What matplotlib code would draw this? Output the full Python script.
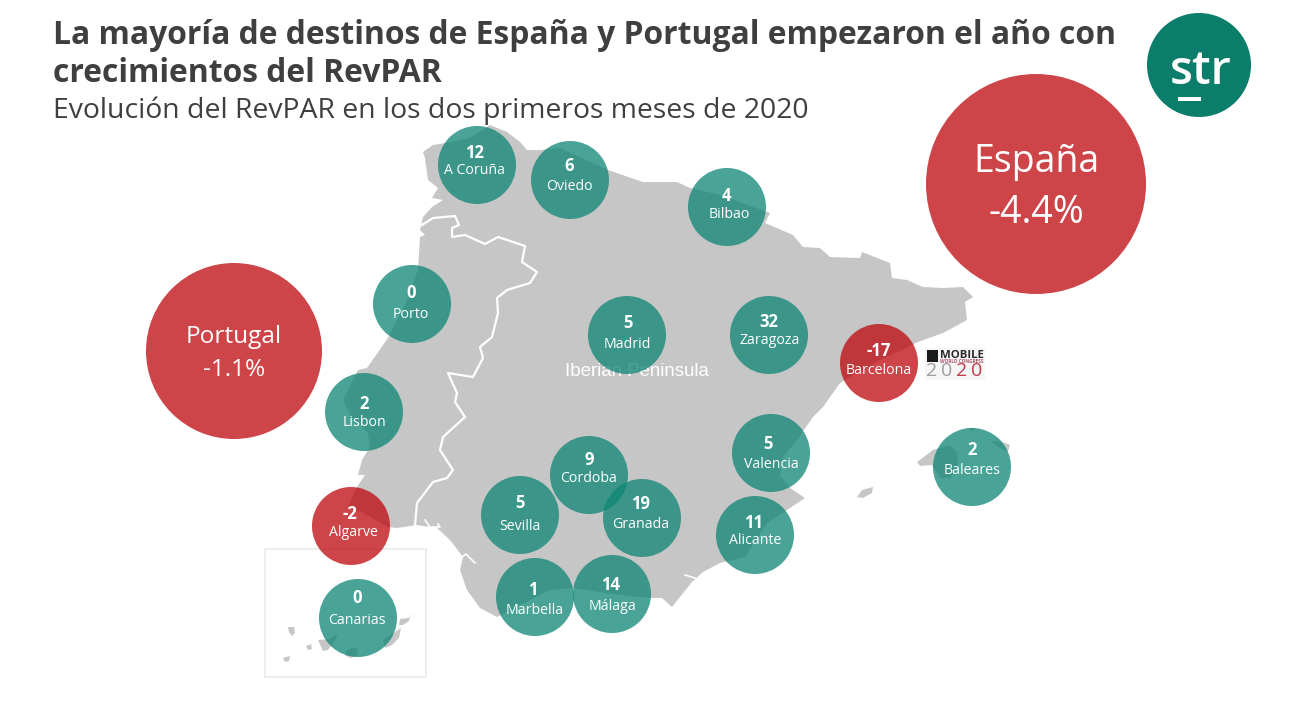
import matplotlib
matplotlib.use("Agg")
import matplotlib.pyplot as plt
from matplotlib.patches import Circle, Polygon, Rectangle

plt.rcParams['font.family'] = ['Open Sans', 'DejaVu Sans']

# ---- data -------------------------------------------------------------
title_lines = ["La mayoría de destinos de España y Portugal empezaron el año con",
               "crecimientos del RevPAR"]
subtitle = "Evolución del RevPAR en los dos primeros meses de 2020"

cities = ["A Coruña", "Oviedo", "Bilbao", "Porto", "Madrid", "Zaragoza", "Barcelona",
          "Lisbon", "Algarve", "Canarias", "Sevilla", "Cordoba", "Granada", "Marbella",
          "Málaga", "Valencia", "Alicante", "Baleares"]
values = [12, 6, 4, 0, 5, 32, -17, 2, -2, 0, 5, 9, 19, 1, 14, 5, 11, 2]
# map locations of the bubbles
city_x = [477, 570, 727, 412, 627, 769, 879, 364, 351, 358, 520, 589, 642, 535, 612, 771, 755, 972]
city_y = [165, 180, 207, 304, 335, 335, 363, 412, 526, 618, 515, 475, 518, 597, 594, 453, 535, 467]
# where the labels sit on the map
value_x = [474, 569, 727, 411, 628, 769, 879, 364, 350, 357, 520, 589, 641, 533, 611, 768, 754, 972]
value_y = [152, 165, 195, 292, 322, 321, 350, 403, 513, 597, 502, 459, 503, 589, 584, 443, 522, 449]
name_x = [474, 569, 729, 411, 627, 770, 879, 364, 353, 357, 520, 589, 641, 535, 613, 771, 755, 972]
name_y = [170, 186, 214, 314, 343, 340, 370, 422, 532, 619, 525, 478, 523, 609, 606, 463, 539, 469]

countries = ["España", "Portugal"]
country_values = ["-4.4%", "-1.1%"]
country_x = [1036, 234]
country_y = [184, 351]
country_r = [110, 88]

# map outline of the Iberian Peninsula
iberia_x = [423, 433, 452, 470, 490, 507, 520, 527, 540, 560, 575, 608, 643, 677, 690, 720, 770, 765,
            793, 803, 820, 830, 860, 862, 890, 892, 907, 923, 943, 963, 973, 965, 967, 943, 918,
            880, 840, 823, 813, 797, 783, 780, 790, 805, 787, 767, 745, 720, 703, 692, 680, 672, 662,
            650, 612, 573, 550, 520, 497, 480, 467, 460, 463, 450, 437, 417, 397, 388, 363, 348, 357,
            365, 358, 362, 370, 368, 350, 343, 358, 367, 388, 405, 418, 420, 425, 420, 423, 432, 443,
            432, 438, 428, 425]
iberia_y = [152, 145, 142, 138, 125, 132, 142, 150, 150, 148, 155, 170, 182, 182, 188, 195, 213, 223,
            235, 247, 248, 257, 258, 252, 263, 278, 280, 287, 288, 287, 297, 302, 320, 333, 342,
            360, 383, 407, 417, 440, 457, 475, 488, 498, 510, 523, 557, 563, 572, 582, 597, 607, 598,
            598, 594, 588, 590, 605, 617, 608, 590, 570, 557, 540, 528, 525, 528, 527, 513, 507, 487,
            475, 475, 460, 447, 433, 415, 400, 370, 368, 338, 305, 270, 237, 235, 230, 217, 207, 200,
            198, 188, 180, 158]

# Spain/Portugal border
border_x = [422, 433, 455, 459, 452, 452, 465, 485, 498, 525, 522, 537, 530, 507, 497, 498, 492,
            480, 483, 473, 448, 457, 455, 465, 443, 440, 453, 447, 433, 417, 415]
border_y = [225, 218, 216, 225, 228, 237, 235, 244, 237, 246, 262, 272, 283, 290, 298, 313, 337,
            347, 358, 377, 373, 393, 402, 417, 437, 450, 470, 478, 482, 503, 525]
# estuaries and lagoons cut into the coast
inlet_x = [[462, 466, 475], [425, 430, 440, 438], [685, 695]]
inlet_y = [[557, 554, 563], [520, 527, 527, 524], [575, 578]]

# islands
islands = {
    "Mallorca": ([917, 933, 950, 957, 958, 950, 940, 932, 920], [462, 450, 445, 452, 465, 478, 478, 465, 466]),
    "Menorca": ([990, 1000, 1010, 1008, 1000], [441, 441, 445, 452, 448]),
    "Cabrera": ([966, 976, 972], [428, 428, 431]),
    "Ibiza": ([857, 862, 873, 872, 863], [497, 490, 487, 493, 498]),
    "La Palma": ([288, 294, 295, 292, 289], [627, 627, 633, 636, 632]),
    "El Hierro": ([283, 290, 289, 285], [658, 656, 661, 662]),
    "La Gomera": ([306, 311, 312, 308], [646, 644, 649, 650]),
    "Tenerife": ([318, 330, 338, 334, 328, 323], [640, 639, 633, 642, 650, 651]),
    "Gran Canaria": ([347, 355, 358, 357, 350, 345], [650, 647, 650, 656, 658, 655]),
    "Fuerteventura": ([383, 398, 401, 399, 392, 385], [640, 630, 628, 638, 645, 648]),
    "Lanzarote": ([400, 409, 411, 409, 403, 399], [619, 618, 613, 621, 625, 625]),
}
year_digits = ["2", "0", "2", "0"]
year_colors = ["#9E9E9E", "#9E9E9E", "#C23B4A", "#C23B4A"]

GREEN = "#0E8675"
RED = "#BE090E"
LAND = "#C6C6C6"
ALPHA = 0.755

fig = plt.figure(figsize=(13.03, 7.04), dpi=100)
ax = fig.add_axes([0, 0, 1, 1])
ax.set_xlim(0, 1303)
ax.set_ylim(704, 0)
ax.axis("off")

# canary box
ax.add_patch(Rectangle((265, 549), 161, 128, fc="white", ec="#EBEBEB", lw=1.2, zorder=1))

# map
ax.add_patch(Polygon(list(zip(iberia_x, iberia_y)), closed=True, fc=LAND, ec="none", zorder=2))
ax.plot(border_x, border_y, color="white", lw=1.6, zorder=3)
for xs, ys in zip(inlet_x, inlet_y):
    ax.plot(xs, ys, color="white", lw=1.2, zorder=3)
for xs, ys in islands.values():
    ax.add_patch(Polygon(list(zip(xs, ys)), closed=True, fc=LAND, ec="none", zorder=2))

ax.text(637, 372, "Iberian Peninsula", color="white", fontsize=13.4, ha="center", va="center",
        family=["Liberation Sans", "DejaVu Sans"], zorder=3)

# destination bubbles
for name, val, x, y, vx, vy, nx, ny in zip(cities, values, city_x, city_y, value_x, value_y, name_x, name_y):
    col = RED if val < 0 else GREEN
    ax.add_patch(Circle((x, y), 39, fc=col, ec="none", alpha=ALPHA, zorder=4))
    ax.text(vx, vy + 1, str(val), color="white", fontsize=12, fontweight="bold",
            ha="center", va="center", zorder=6)
    ax.text(nx, ny + 1, name, color="white", fontsize=10.2, ha="center", va="center", zorder=6)

# country bubbles
country_fs = [27, 17.6]
country_name_y = [162, 337]
country_val_y = [213, 370]
for name, val, x, y, r, fs, ny, vy in zip(countries, country_values, country_x, country_y, country_r,
                                           country_fs, country_name_y, country_val_y):
    ax.add_patch(Circle((x, y), r, fc=RED, ec="none", alpha=ALPHA, zorder=4))
    ax.text(x, ny, name, color="white", fontsize=fs, ha="center", va="center", zorder=6)
    ax.text(x, vy, val, color="white", fontsize=fs, ha="center", va="center", zorder=6)

# title
ax.text(53, 36, title_lines[0], color="#3F3F3F", fontsize=22.95, fontweight="bold", va="center", ha="left")
ax.text(53, 74, title_lines[1], color="#3F3F3F", fontsize=22.95, fontweight="bold", va="center", ha="left")
ax.text(53, 111, subtitle, color="#3F3F3F", fontsize=20.4, va="center", ha="left")

# str logo
ax.add_patch(Circle((1199, 65), 52, fc="#0B7D6B", ec="none", zorder=5))
ax.text(1201, 72, "str", color="white", fontsize=34, fontweight=600, ha="center", va="center", zorder=6)
ax.add_patch(Rectangle((1178, 97), 23, 4, fc="white", ec="none", zorder=6))

# MWC badge
ax.add_patch(Rectangle((925, 348), 60, 32, fc="#F6F6F6", ec="none", zorder=3))
ax.add_patch(Rectangle((927, 350), 11, 12, fc="#1A1A1A", ec="none", zorder=4))
ax.text(962, 355, "MOBILE", color="#2A2A2A", fontsize=8.2, fontweight="bold", ha="center", va="center", zorder=5)
ax.text(962, 361.5, "WORLD CONGRESS", color="#B0566A", fontsize=3.4, fontweight="bold", ha="center", va="center", zorder=5)
for d, c, x in zip(year_digits, year_colors, [932, 947, 962, 977]):
    ax.text(x, 371, d, color=c, fontsize=14, ha="center", va="center", zorder=5)

fig.savefig("out.png", dpi=100)
